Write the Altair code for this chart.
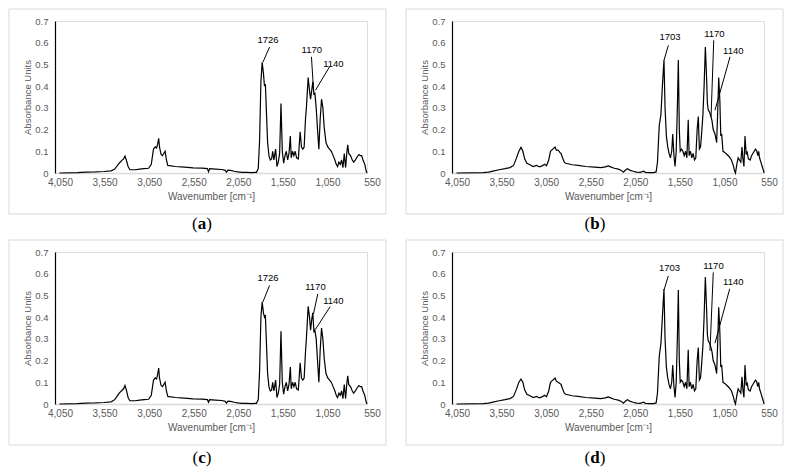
import altair as alt
import pandas as pd

# ---------------- data ----------------
wn_ac = [4000, 3800, 3700, 3600, 3500, 3420, 3380, 3330, 3300, 3280, 3265, 3250, 3230, 3210, 3150,
         3100, 3050, 3000, 2970, 2945, 2925, 2910, 2895, 2887, 2878, 2860, 2845, 2830, 2815, 2800,
         2785, 2700, 2600, 2500, 2400, 2340, 2328, 2315, 2250, 2180, 2140, 2127, 2110, 2080, 2040,
         2000, 1950, 1900, 1850, 1790, 1770, 1755, 1740, 1726, 1712, 1700, 1690, 1680, 1665, 1650,
         1635, 1620, 1608, 1595, 1575, 1560, 1545, 1530, 1515, 1500, 1485, 1470, 1455, 1440, 1425,
         1410, 1400, 1385, 1370, 1355, 1340, 1320, 1300, 1285, 1270, 1255, 1240, 1230, 1210, 1195,
         1183, 1170, 1158, 1145, 1135, 1120, 1105, 1090, 1075, 1060, 1045, 1030, 1010, 990, 970,
         950, 930, 910, 895, 880, 865, 850, 835, 820, 805, 790, 775, 766, 755, 735,
         715, 700, 680, 660, 640, 625, 610, 595, 575, 560, 550]
abs_a = [0.0, 0.002, 0.004, 0.005, 0.007, 0.01, 0.018, 0.045, 0.058, 0.065, 0.078, 0.06, 0.03, 0.015, 0.015,
         0.018, 0.02, 0.022, 0.04, 0.11, 0.12, 0.115, 0.14, 0.16, 0.12, 0.085, 0.08, 0.09, 0.1, 0.06,
         0.035, 0.03, 0.027, 0.024, 0.022, 0.02, 0.006, 0.02, 0.018, 0.016, 0.012, 0.004, 0.013, 0.012, 0.008,
         0.005, 0.003, 0.003, 0.002, 0.003, 0.02, 0.15, 0.42, 0.51, 0.46, 0.4, 0.41, 0.3, 0.14, 0.08,
         0.06, 0.065, 0.1, 0.06, 0.11, 0.03, 0.05, 0.09, 0.32, 0.1, 0.045, 0.08, 0.1, 0.06, 0.09,
         0.17, 0.07, 0.1, 0.08, 0.1, 0.07, 0.065, 0.19, 0.12, 0.11, 0.12, 0.25, 0.3, 0.44, 0.38,
         0.34, 0.38, 0.42, 0.36, 0.37, 0.3, 0.2, 0.11, 0.25, 0.34, 0.3, 0.21, 0.14, 0.12, 0.11,
         0.1, 0.08, 0.06, 0.04, 0.03, 0.05, 0.04, 0.06, 0.025, 0.09, 0.025, 0.1, 0.13, 0.09, 0.08,
         0.06, 0.05, 0.06, 0.075, 0.085, 0.08, 0.08, 0.06, 0.04, 0.01, 0.0]
abs_c = [0.0, 0.002, 0.004, 0.005, 0.007, 0.01, 0.02, 0.05, 0.062, 0.07, 0.085, 0.065, 0.03, 0.015, 0.015,
         0.018, 0.02, 0.022, 0.04, 0.11, 0.12, 0.115, 0.145, 0.165, 0.12, 0.085, 0.08, 0.09, 0.1, 0.06,
         0.035, 0.03, 0.027, 0.024, 0.022, 0.02, 0.008, 0.02, 0.018, 0.016, 0.012, 0.004, 0.013, 0.012, 0.008,
         0.005, 0.003, 0.003, 0.002, 0.003, 0.02, 0.15, 0.4, 0.47, 0.42, 0.4, 0.41, 0.3, 0.14, 0.08,
         0.06, 0.065, 0.1, 0.06, 0.11, 0.03, 0.05, 0.09, 0.335, 0.1, 0.045, 0.08, 0.1, 0.06, 0.09,
         0.17, 0.07, 0.1, 0.08, 0.1, 0.07, 0.065, 0.19, 0.12, 0.11, 0.12, 0.24, 0.3, 0.45, 0.4,
         0.34, 0.39, 0.42, 0.33, 0.34, 0.3, 0.2, 0.1, 0.25, 0.35, 0.3, 0.21, 0.14, 0.12, 0.11,
         0.1, 0.08, 0.06, 0.04, 0.03, 0.05, 0.04, 0.06, 0.025, 0.09, 0.025, 0.1, 0.13, 0.09, 0.08,
         0.06, 0.05, 0.06, 0.075, 0.085, 0.08, 0.08, 0.06, 0.04, 0.01, 0.0]

wn_bd = [4000, 3700, 3640, 3580, 3520, 3455, 3400, 3360, 3330, 3300, 3276, 3255, 3235, 3210, 3175,
         3140, 3100, 3070, 3040, 3010, 2990, 2965, 2945, 2920, 2894, 2880, 2860, 2840, 2827, 2810,
         2790, 2775, 2700, 2635, 2550, 2448, 2380, 2330, 2297, 2270, 2230, 2185, 2150, 2128, 2100,
         2080, 2050, 2017, 1980, 1940, 1900, 1880, 1840, 1790, 1760, 1745, 1725, 1706, 1690, 1672,
         1660, 1645, 1630, 1615, 1600, 1585, 1574, 1560, 1548, 1535, 1522, 1511, 1500, 1490, 1475,
         1460, 1445, 1430, 1415, 1400, 1390, 1375, 1360, 1345, 1330, 1315, 1300, 1287, 1275, 1262,
         1250, 1235, 1222, 1208, 1195, 1185, 1175, 1160, 1145, 1133, 1120, 1100, 1081, 1068, 1058,
         1045, 1035, 1025, 1010, 990, 965, 940, 915, 895, 880, 870, 855, 840, 825, 810,
         797, 785, 775, 763, 750, 740, 725, 705, 690, 675, 660, 645, 630, 620, 610,
         600, 585, 570, 555, 550]
abs_b = [0.0, 0.002, 0.004, 0.01, 0.015, 0.02, 0.025, 0.035, 0.065, 0.1, 0.118, 0.1, 0.065, 0.045, 0.038,
         0.03, 0.035, 0.028, 0.033, 0.04, 0.033, 0.06, 0.1, 0.11, 0.12, 0.105, 0.105, 0.095, 0.09, 0.07,
         0.05, 0.045, 0.038, 0.035, 0.03, 0.027, 0.025, 0.028, 0.033, 0.028, 0.022, 0.018, 0.012, 0.004, 0.015,
         0.02, 0.012, 0.008, 0.004, 0.003, 0.008, 0.003, 0.002, 0.002, 0.005, 0.05, 0.22, 0.27, 0.4, 0.52,
         0.3, 0.17, 0.12, 0.09, 0.07, 0.1, 0.18, 0.08, 0.03, 0.1, 0.3, 0.52, 0.2, 0.1, 0.11,
         0.1, 0.08, 0.1, 0.07, 0.245, 0.08, 0.1, 0.07, 0.09, 0.06, 0.07, 0.2, 0.26, 0.11, 0.12,
         0.18, 0.27, 0.4, 0.58, 0.45, 0.32, 0.29, 0.28, 0.26, 0.24, 0.2, 0.18, 0.14, 0.3, 0.44,
         0.33, 0.17, 0.18, 0.1, 0.095, 0.085, 0.075, 0.06, 0.035, 0.01, 0.0, 0.04, 0.07, 0.06, 0.05,
         0.12, 0.06, 0.03, 0.17, 0.085, 0.1, 0.065, 0.06, 0.08, 0.09, 0.1, 0.11, 0.1, 0.08, 0.1,
         0.07, 0.05, 0.03, 0.01, 0.0]
abs_d = [0.0, 0.002, 0.004, 0.01, 0.015, 0.02, 0.025, 0.035, 0.065, 0.1, 0.115, 0.1, 0.065, 0.045, 0.038,
         0.03, 0.035, 0.028, 0.033, 0.04, 0.033, 0.06, 0.1, 0.11, 0.12, 0.105, 0.1, 0.095, 0.09, 0.07,
         0.05, 0.045, 0.038, 0.035, 0.03, 0.027, 0.025, 0.028, 0.033, 0.028, 0.022, 0.018, 0.012, 0.004, 0.015,
         0.02, 0.012, 0.008, 0.004, 0.003, 0.008, 0.003, 0.002, 0.002, 0.005, 0.05, 0.22, 0.28, 0.4, 0.53,
         0.3, 0.17, 0.12, 0.09, 0.07, 0.1, 0.18, 0.08, 0.03, 0.1, 0.3, 0.525, 0.2, 0.1, 0.11,
         0.1, 0.08, 0.1, 0.07, 0.25, 0.08, 0.1, 0.07, 0.09, 0.06, 0.07, 0.2, 0.26, 0.11, 0.12,
         0.18, 0.27, 0.4, 0.585, 0.45, 0.32, 0.29, 0.28, 0.26, 0.24, 0.2, 0.18, 0.14, 0.3, 0.445,
         0.33, 0.17, 0.18, 0.1, 0.095, 0.085, 0.075, 0.06, 0.035, 0.01, 0.0, 0.04, 0.07, 0.06, 0.05,
         0.125, 0.06, 0.03, 0.18, 0.085, 0.1, 0.065, 0.06, 0.08, 0.09, 0.1, 0.11, 0.1, 0.08, 0.1,
         0.07, 0.05, 0.03, 0.01, 0.0]

# peak annotations: label, label position, leader line start / end
ann_ac_labels = ["1726", "1170", "1140"]
ann_a_tx = [1661, 1169, 927]
ann_a_ty = [0.611, 0.568, 0.504]
ann_a_x1 = [1643, 1173, 972]
ann_a_y1 = [0.58, 0.535, 0.488]
ann_a_x2 = [1718, 1151, 1128]
ann_a_y2 = [0.51, 0.388, 0.381]

ann_c_tx = [1661, 1128, 927]
ann_c_ty = [0.581, 0.538, 0.476]
ann_c_x1 = [1643, 1102, 964]
ann_c_y1 = [0.546, 0.507, 0.448]
ann_c_x2 = [1718, 1151, 1128]
ann_c_y2 = [0.47, 0.414, 0.344]

ann_bd_labels = ["1703", "1170", "1140"]
ann_b_tx = [1604, 1107, 894]
ann_b_ty = [0.627, 0.642, 0.561]
ann_b_x1 = [1623, 1114, 931]
ann_b_y1 = [0.588, 0.611, 0.535]
ann_b_x2 = [1672, 1144, 1100]
ann_b_y2 = [0.519, 0.258, 0.289]

ann_d_tx = [1610, 1117, 894]
ann_d_ty = [0.626, 0.637, 0.56]
ann_d_x1 = [1623, 1119, 935]
ann_d_y1 = [0.59, 0.606, 0.53]
ann_d_x2 = [1672, 1156, 1100]
ann_d_y2 = [0.525, 0.245, 0.28]

x_ticks = [4050, 3550, 3050, 2550, 2050, 1550, 1050, 550]
y_ticks = [0, 0.1, 0.2, 0.3, 0.4, 0.5, 0.6, 0.7]
panel_letters = ["a", "b", "c", "d"]

# ---------------- chart ----------------
W, H = 312, 152
FONT = "Liberation Sans"
GREY = "#595959"

xs = alt.Scale(domain=[550, 4050], reverse=True, nice=False, zero=False)
ys = alt.Scale(domain=[0, 0.7], nice=False, zero=True)

x_axis = alt.Axis(values=x_ticks, format=",.0f", grid=False, ticks=False, labelFlush=False,
                  labelOffset=5,
                  domainColor="#d9d9d9", domainWidth=1.5, labelColor=GREY, titleColor=GREY,
                  labelFont=FONT, titleFont=FONT, labelFontSize=10, titleFontSize=10,
                  titleFontWeight="normal", labelPadding=4, titlePadding=4,
                  title="Wavenumber [cm\u207b\u00b9]")
y_axis = alt.Axis(values=y_ticks, format=".1~f", grid=False, ticks=False,
                  domainColor="#000000", domainWidth=1.2, labelColor=GREY, titleColor=GREY,
                  labelFont=FONT, titleFont=FONT, labelFontSize=9.5, titleFontSize=9.5,
                  titleFontWeight="normal", labelPadding=7, titlePadding=2,
                  title="Absorbance Units")

one = pd.DataFrame({"k": [0]})


def panel(wn, ab, labels, tx, ty, x1, y1, x2, y2, letter, cap_x, cap_y, letter_w):
    spec = pd.DataFrame({"wn": wn, "ab": ab})
    ann_t = pd.DataFrame({"wn": tx, "ab": ty, "label": labels})
    ann_r = pd.DataFrame({"wn": x1, "ab": y1, "wn2": x2, "ab2": y2})

    frame = alt.Chart(one).mark_rect(fillOpacity=0, stroke="#d9d9d9", strokeWidth=1).encode(
        x=alt.value(-46), x2=alt.value(331), y=alt.value(-12), y2=alt.value(193))

    line = alt.Chart(spec).mark_line(color="#000000", strokeWidth=1.2).encode(
        x=alt.X("wn:Q", scale=xs, axis=x_axis),
        y=alt.Y("ab:Q", scale=ys, axis=y_axis),
        order="wn:Q")

    rules = alt.Chart(ann_r).mark_rule(color="#000000", strokeWidth=1).encode(
        x=alt.X("wn:Q", scale=xs, axis=x_axis), y=alt.Y("ab:Q", scale=ys, axis=y_axis),
        x2="wn2:Q", y2="ab2:Q")

    texts = alt.Chart(ann_t).mark_text(font=FONT, fontSize=9.5, color="#000000",
                                       align="center", baseline="middle").encode(
        x=alt.X("wn:Q", scale=xs, axis=x_axis), y=alt.Y("ab:Q", scale=ys, axis=y_axis),
        text="label:N")

    cap_common = dict(font="Liberation Serif", fontSize=17, color="#000000", baseline="middle")
    cap_l = alt.Chart(one).mark_text(text="(", align="right", **cap_common).encode(
        x=alt.value(cap_x - letter_w / 2), y=alt.value(cap_y))
    cap_m = alt.Chart(one).mark_text(text=letter, align="center", fontWeight="bold",
                                     **cap_common).encode(
        x=alt.value(cap_x), y=alt.value(cap_y))
    cap_r = alt.Chart(one).mark_text(text=")", align="left", **cap_common).encode(
        x=alt.value(cap_x + letter_w / 2), y=alt.value(cap_y))

    return alt.layer(frame, line, rules, texts, cap_l, cap_m, cap_r).properties(width=W, height=H)


pa = panel(wn_ac, abs_a, ann_ac_labels, ann_a_tx, ann_a_ty, ann_a_x1, ann_a_y1, ann_a_x2, ann_a_y2,
           panel_letters[0], 147, 203, 8.5)
pb = panel(wn_bd, abs_b, ann_bd_labels, ann_b_tx, ann_b_ty, ann_b_x1, ann_b_y1, ann_b_x2, ann_b_y2,
           panel_letters[1], 143, 203, 9.5)
pc = panel(wn_ac, abs_c, ann_ac_labels, ann_c_tx, ann_c_ty, ann_c_x1, ann_c_y1, ann_c_x2, ann_c_y2,
           panel_letters[2], 147, 206, 7.5)
pd_ = panel(wn_bd, abs_d, ann_bd_labels, ann_d_tx, ann_d_ty, ann_d_x1, ann_d_y1, ann_d_x2, ann_d_y2,
            panel_letters[3], 143, 206, 9.5)

chart = alt.concat(pa, pb, pc, pd_, columns=2, spacing={"row": 79, "column": 85},
                   bounds="flush").properties(
    padding={"left": 0, "top": 0, "right": 0, "bottom": 0}
).configure_view(strokeWidth=0).configure(background="white")

chart.save("out.html", embed_options={"renderer": "svg", "actions": False})
